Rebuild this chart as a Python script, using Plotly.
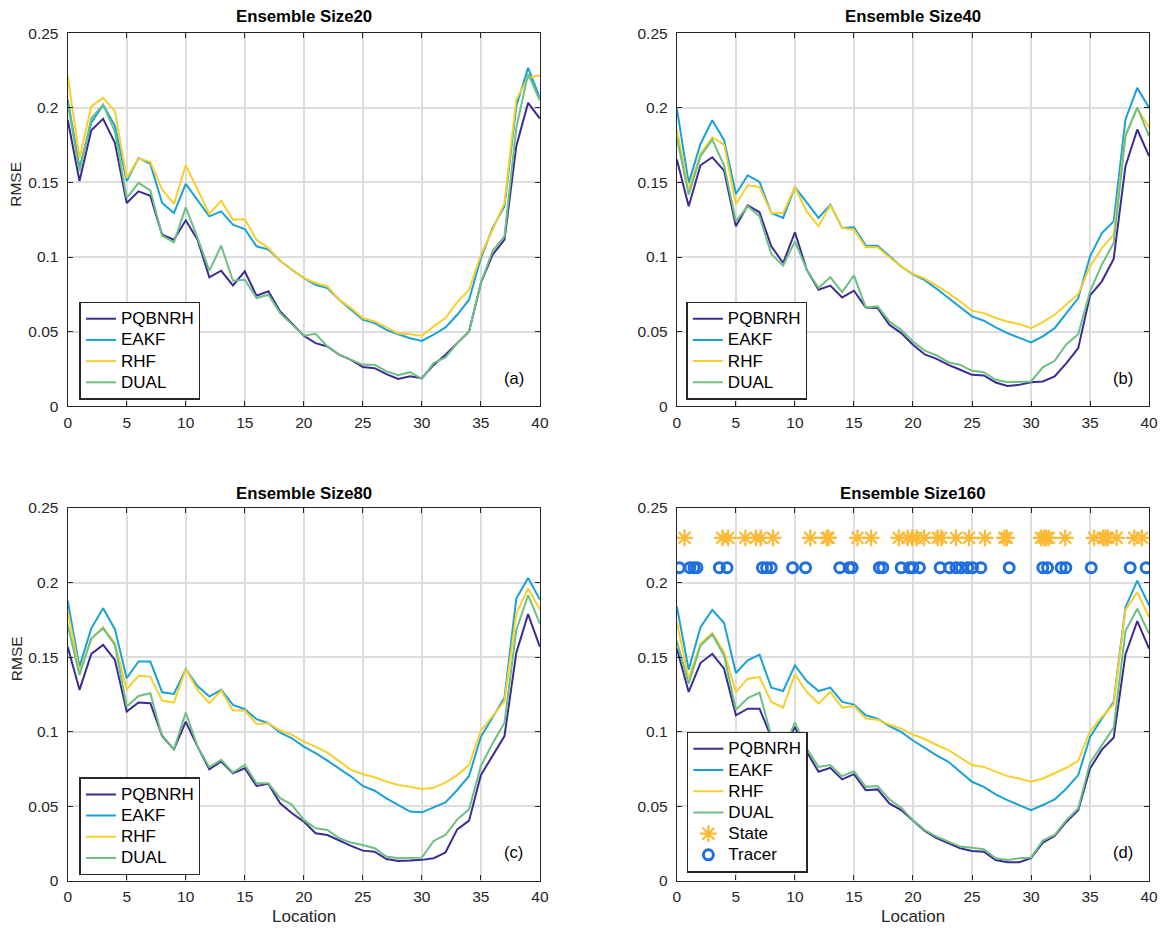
import plotly.graph_objects as go

loc = list(range(41))

# Ensemble size 20
a_PQBNRH = [0.192, 0.151, 0.185, 0.1926, 0.1765, 0.1362, 0.144, 0.141, 0.115, 0.1116, 0.1246, 0.1116, 0.0864, 0.0908, 0.081, 0.0904, 0.074, 0.077, 0.0635, 0.0557, 0.0472, 0.0423, 0.040, 0.0345, 0.0311, 0.0262, 0.0255, 0.0215, 0.0183, 0.020, 0.0188, 0.0277, 0.0345, 0.0423, 0.0501, 0.0826, 0.1016, 0.1116, 0.1743, 0.2034, 0.1928]
a_EAKF = [0.2056, 0.16, 0.19, 0.202, 0.188, 0.151, 0.1664, 0.1624, 0.1362, 0.1295, 0.149, 0.1385, 0.1273, 0.1306, 0.1217, 0.1188, 0.1072, 0.105, 0.0975, 0.0915, 0.0859, 0.0814, 0.0792, 0.0714, 0.0647, 0.058, 0.0557, 0.0512, 0.0482, 0.0456, 0.0438, 0.0479, 0.0528, 0.0613, 0.0714, 0.0993, 0.1195, 0.134, 0.2011, 0.2268, 0.2067]
a_RHF = [0.2217, 0.1664, 0.201, 0.2067, 0.198, 0.153, 0.166, 0.1638, 0.1452, 0.1356, 0.1615, 0.145, 0.1289, 0.1378, 0.125, 0.1253, 0.1116, 0.106, 0.0975, 0.0915, 0.0859, 0.0826, 0.0803, 0.0714, 0.0658, 0.0591, 0.0568, 0.0528, 0.0487, 0.0483, 0.0472, 0.0535, 0.0591, 0.0698, 0.078, 0.1016, 0.1183, 0.1362, 0.2056, 0.2201, 0.2219]
a_DUAL = [0.2034, 0.1575, 0.193, 0.202, 0.184, 0.1396, 0.1497, 0.1447, 0.1143, 0.1098, 0.1333, 0.1128, 0.0908, 0.1076, 0.0841, 0.0848, 0.0725, 0.0747, 0.0624, 0.0546, 0.0472, 0.0485, 0.040, 0.0345, 0.0311, 0.0277, 0.0277, 0.0233, 0.0207, 0.0228, 0.0183, 0.0289, 0.0327, 0.0423, 0.0501, 0.0826, 0.1042, 0.1139, 0.1866, 0.2228, 0.2049]

# Ensemble size 40
b_PQBNRH = [0.1653, 0.134, 0.1615, 0.1669, 0.1579, 0.1206, 0.1347, 0.13, 0.1072, 0.096, 0.1166, 0.0915, 0.0781, 0.0808, 0.0729, 0.0774, 0.0662, 0.0658, 0.0546, 0.049, 0.0412, 0.0347, 0.0317, 0.0277, 0.0244, 0.021, 0.0206, 0.0159, 0.0136, 0.0143, 0.0161, 0.0166, 0.02, 0.0289, 0.0389, 0.0743, 0.0837, 0.0987, 0.1609, 0.1855, 0.1676]
b_EAKF = [0.1995, 0.1497, 0.1758, 0.1917, 0.1783, 0.1423, 0.1548, 0.1503, 0.1295, 0.1262, 0.1468, 0.1362, 0.1262, 0.1351, 0.1195, 0.12, 0.1078, 0.1076, 0.1004, 0.0937, 0.0884, 0.0845, 0.0787, 0.0725, 0.0658, 0.0602, 0.0573, 0.0528, 0.049, 0.0456, 0.0427, 0.0468, 0.0523, 0.0624, 0.0725, 0.1004, 0.1161, 0.1239, 0.1922, 0.2134, 0.2]
b_RHF = [0.1855, 0.1452, 0.1691, 0.1803, 0.1754, 0.1356, 0.1481, 0.147, 0.1295, 0.1295, 0.1468, 0.1306, 0.1206, 0.1347, 0.1195, 0.1183, 0.1065, 0.1065, 0.0998, 0.0937, 0.0887, 0.0855, 0.0808, 0.0758, 0.0702, 0.064, 0.0624, 0.0591, 0.0568, 0.055, 0.0523, 0.0564, 0.0613, 0.068, 0.0752, 0.0937, 0.106, 0.115, 0.1821, 0.1996, 0.187]
b_DUAL = [0.18, 0.1418, 0.1676, 0.1787, 0.1615, 0.1239, 0.134, 0.1273, 0.102, 0.0942, 0.1105, 0.0915, 0.0792, 0.0864, 0.0765, 0.0877, 0.0662, 0.0669, 0.0568, 0.0512, 0.0434, 0.0372, 0.0341, 0.0295, 0.0277, 0.0237, 0.0228, 0.0177, 0.0161, 0.0161, 0.0166, 0.026, 0.0304, 0.0416, 0.0483, 0.077, 0.0949, 0.1094, 0.181, 0.2004, 0.181]

# Ensemble size 80
c_PQBNRH = [0.157, 0.128, 0.1521, 0.1582, 0.1481, 0.1134, 0.1195, 0.119, 0.0971, 0.0881, 0.1067, 0.0899, 0.0747, 0.0799, 0.072, 0.0754, 0.0635, 0.0649, 0.0519, 0.0452, 0.0396, 0.0318, 0.0306, 0.0268, 0.0233, 0.0201, 0.0194, 0.0145, 0.0132, 0.0134, 0.0139, 0.015, 0.0188, 0.0344, 0.0402, 0.0708, 0.0836, 0.097, 0.1528, 0.1788, 0.1569]
c_EAKF = [0.1879, 0.1436, 0.1693, 0.1828, 0.1687, 0.1358, 0.147, 0.147, 0.1264, 0.1253, 0.1418, 0.1306, 0.1235, 0.128, 0.1179, 0.115, 0.1083, 0.1056, 0.0993, 0.0955, 0.0899, 0.0855, 0.0805, 0.0754, 0.0698, 0.0635, 0.0603, 0.0552, 0.0507, 0.0463, 0.0458, 0.0489, 0.0525, 0.0608, 0.0702, 0.0965, 0.11, 0.1227, 0.1893, 0.2031, 0.1886]
c_RHF = [0.1812, 0.1403, 0.162, 0.17, 0.1593, 0.1284, 0.1374, 0.1369, 0.1208, 0.1195, 0.1418, 0.128, 0.119, 0.1275, 0.1141, 0.1141, 0.1051, 0.1056, 0.1007, 0.0978, 0.0933, 0.0899, 0.0859, 0.0799, 0.0743, 0.0715, 0.0693, 0.0664, 0.0641, 0.063, 0.0615, 0.0623, 0.0657, 0.0708, 0.0775, 0.1006, 0.1104, 0.1204, 0.1792, 0.196, 0.1819]
c_DUAL = [0.1716, 0.138, 0.1626, 0.1693, 0.1582, 0.1168, 0.1239, 0.1257, 0.0966, 0.0881, 0.1128, 0.0899, 0.0761, 0.081, 0.0725, 0.0776, 0.0653, 0.0653, 0.0553, 0.0508, 0.0407, 0.0351, 0.034, 0.0284, 0.0255, 0.0239, 0.0217, 0.0161, 0.015, 0.015, 0.0154, 0.0266, 0.0306, 0.0411, 0.0478, 0.0769, 0.0921, 0.1059, 0.168, 0.1915, 0.1725]

# Ensemble size 160
d_PQBNRH = [0.1556, 0.1266, 0.146, 0.1522, 0.1422, 0.1109, 0.1154, 0.1154, 0.096, 0.088, 0.1031, 0.0864, 0.073, 0.0757, 0.0679, 0.0714, 0.0607, 0.0612, 0.0518, 0.0473, 0.0403, 0.0333, 0.0285, 0.025, 0.0217, 0.0199, 0.0194, 0.0138, 0.0123, 0.0123, 0.015, 0.0254, 0.0299, 0.0395, 0.0473, 0.0752, 0.0879, 0.0958, 0.1518, 0.1741, 0.1556]
d_EAKF = [0.1839, 0.1415, 0.1701, 0.1817, 0.1728, 0.1393, 0.1478, 0.1516, 0.1295, 0.1272, 0.1444, 0.1339, 0.1272, 0.1295, 0.1199, 0.1181, 0.1109, 0.1087, 0.1036, 0.0998, 0.094, 0.089, 0.084, 0.0797, 0.073, 0.0663, 0.0629, 0.0578, 0.054, 0.0507, 0.0473, 0.0507, 0.0545, 0.0618, 0.0708, 0.0964, 0.1087, 0.1199, 0.1835, 0.2013, 0.1846]
d_RHF = [0.1734, 0.1355, 0.1589, 0.1661, 0.1533, 0.1266, 0.1355, 0.1366, 0.1199, 0.1161, 0.1384, 0.1266, 0.1188, 0.1266, 0.1161, 0.1172, 0.1087, 0.108, 0.1047, 0.102, 0.098, 0.095, 0.091, 0.0875, 0.0826, 0.0775, 0.0763, 0.073, 0.0701, 0.0685, 0.0663, 0.0685, 0.0719, 0.0757, 0.0804, 0.1004, 0.1098, 0.1183, 0.1817, 0.1935, 0.1768]
d_DUAL = [0.1607, 0.1321, 0.1578, 0.1652, 0.1511, 0.1147, 0.1225, 0.1261, 0.097, 0.088, 0.106, 0.0886, 0.0763, 0.0775, 0.0701, 0.0734, 0.0629, 0.0634, 0.0545, 0.0489, 0.0406, 0.0339, 0.0295, 0.0261, 0.0228, 0.0221, 0.021, 0.015, 0.0138, 0.015, 0.0154, 0.0268, 0.0306, 0.0406, 0.0484, 0.079, 0.0908, 0.1027, 0.1674, 0.1824, 0.1656]

state_loc = [0.65, 3.85, 4.35, 5.8, 6.7, 7.1, 8.15, 11.3, 12.7, 12.85, 15.3, 16.45, 18.8, 19.55, 19.95, 20.3, 20.95, 22.1, 22.4, 23.65, 24.75, 26.1, 27.75, 27.95, 30.85, 31.1, 31.3, 31.5, 32.9, 35.35, 36.1, 36.3, 36.5, 37.25, 38.75, 39.4]
state_level = 0.23
tracer_loc = [0.2, 1.1, 1.45, 1.7, 3.6, 4.25, 7.25, 7.6, 8.0, 9.8, 10.9, 13.8, 14.6, 14.85, 17.15, 17.45, 19.0, 19.7, 20.0, 20.55, 22.3, 23.1, 23.65, 24.1, 24.65, 25.05, 25.75, 28.15, 31.0, 31.4, 32.55, 32.95, 35.1, 38.4, 39.75]
tracer_level = 0.21

methods = ["PQBNRH", "EAKF", "RHF", "DUAL"]
colors = {"PQBNRH": "#3b2b94", "EAKF": "#19a2d6", "RHF": "#f7cf2c", "DUAL": "#6dbf82"}
panels = [
    ("Ensemble Size20", "(a)", [a_PQBNRH, a_EAKF, a_RHF, a_DUAL]),
    ("Ensemble Size40", "(b)", [b_PQBNRH, b_EAKF, b_RHF, b_DUAL]),
    ("Ensemble Size80", "(c)", [c_PQBNRH, c_EAKF, c_RHF, c_DUAL]),
    ("Ensemble Size160", "(d)", [d_PQBNRH, d_EAKF, d_RHF, d_DUAL]),
]

W, H = 1162, 931
FONT = "Liberation Sans, Arial, Helvetica, sans-serif"
INK = "#262626"

# measured page mapping of the rendered figure: page = S * fig + B
SX, BX = 0.989, 3.0
SY, BY = 0.983, 8.0


def px(xp):
    return ((xp - BX) / SX) / W


def py(yp):
    return 1 - ((yp - BY) / SY) / H


# target pixel boxes in the page (left, right, top, bottom)
boxes = [(66.7, 539.0, 32.3, 405.7), (676.0, 1148.3, 32.3, 405.7),
         (66.7, 539.0, 507.7, 880.7), (676.0, 1148.3, 507.7, 880.7)]
legend_pos = [(78.5, 301.0), (685.5, 301.0), (78.5, 777.3), (686.0, 731.7)]
title_y = [16, 16, 493, 493]

fig = go.Figure()
layout = dict(width=W, height=H, margin=dict(l=0, r=0, t=0, b=0),
              paper_bgcolor="white", plot_bgcolor="white",
              font=dict(family=FONT, color=INK), annotations=[])


def lname(s):
    return f'<span style="font-size:17px">{s}</span>'


for i, (title, tag, series) in enumerate(panels):
    n = i + 1
    xa = "x" if n == 1 else f"x{n}"
    ya = "y" if n == 1 else f"y{n}"
    lg = "legend" if n == 1 else f"legend{n}"
    for m, vals in zip(methods, series):
        fig.add_trace(go.Scatter(x=loc, y=vals, mode="lines", name=lname(m),
                                 line=dict(color=colors[m], width=2),
                                 xaxis=xa, yaxis=ya, legend=lg))
    if n == 4:
        fig.add_trace(go.Scatter(x=state_loc, y=[state_level] * len(state_loc), mode="markers",
                                 name=lname("State"), xaxis=xa, yaxis=ya, legend=lg,
                                 marker=dict(symbol="asterisk-open", size=14,
                                             color="#fdb933", line=dict(color="#fdb933", width=2.2))))
        fig.add_trace(go.Scatter(x=tracer_loc, y=[tracer_level] * len(tracer_loc), mode="markers",
                                 name=lname("Tracer"), xaxis=xa, yaxis=ya, legend=lg,
                                 marker=dict(symbol="circle-open", size=10,
                                             color="#1f6fe0", line=dict(color="#1f6fe0", width=3))))
    l, r, t, b = boxes[i]
    xd = [px(l), px(r)]
    yd = [py(b), py(t)]
    axcommon = dict(showline=True, linecolor=INK, linewidth=1.2, mirror="ticks",
                    ticks="inside", ticklen=5, tickcolor=INK, tickwidth=1.2,
                    showgrid=True, gridcolor="#dddddd", gridwidth=1.5,
                    zeroline=False, tickfont=dict(family=FONT, size=15.5, color=INK))
    layout["xaxis" if n == 1 else f"xaxis{n}"] = dict(
        domain=xd, range=[0, 40], tickvals=[0, 5, 10, 15, 20, 25, 30, 35, 40],
        anchor=ya, ticklabelstandoff=2, **axcommon)
    layout["yaxis" if n == 1 else f"yaxis{n}"] = dict(
        domain=yd, range=[0, 0.25], tickvals=[0, 0.05, 0.1, 0.15, 0.2, 0.25],
        ticktext=["0", "0.05", "0.1", "0.15", "0.2", "0.25"], anchor=xa,
        ticklabelstandoff=5, **axcommon)
    lx, ly = legend_pos[i]
    layout[lg] = dict(x=px(lx), y=py(ly), xanchor="left", yanchor="top",
                      bgcolor="white", bordercolor=INK, borderwidth=1.5,
                      font=dict(family=FONT, size=14, color="black"),
                      itemwidth=30, tracegroupgap=0)
    layout["annotations"].append(dict(text=f"<b>{title}</b>", x=px((l + r) / 2), y=py(title_y[i]),
                                      xref="paper", yref="paper", xanchor="center", yanchor="middle",
                                      showarrow=False, font=dict(family=FONT, size=16.8, color="black")))
    layout["annotations"].append(dict(text=tag, x=37.8, y=0.019, xref=xa, yref=ya,
                                      xanchor="center", yanchor="middle", showarrow=False,
                                      font=dict(family=FONT, size=16.5, color="black")))

for yc in (183, 658):
    layout["annotations"].append(dict(text="RMSE", x=px(15), y=py(yc), xref="paper", yref="paper",
                                      textangle=-90, xanchor="center", yanchor="middle", showarrow=False,
                                      font=dict(family=FONT, size=15.5, color=INK)))
for xc in (303, 912):
    layout["annotations"].append(dict(text="Location", x=px(xc), y=py(917), xref="paper", yref="paper",
                                      xanchor="center", yanchor="middle", showarrow=False,
                                      font=dict(family=FONT, size=17, color=INK)))

fig.update_layout(**layout)
fig.write_html("out.html")
